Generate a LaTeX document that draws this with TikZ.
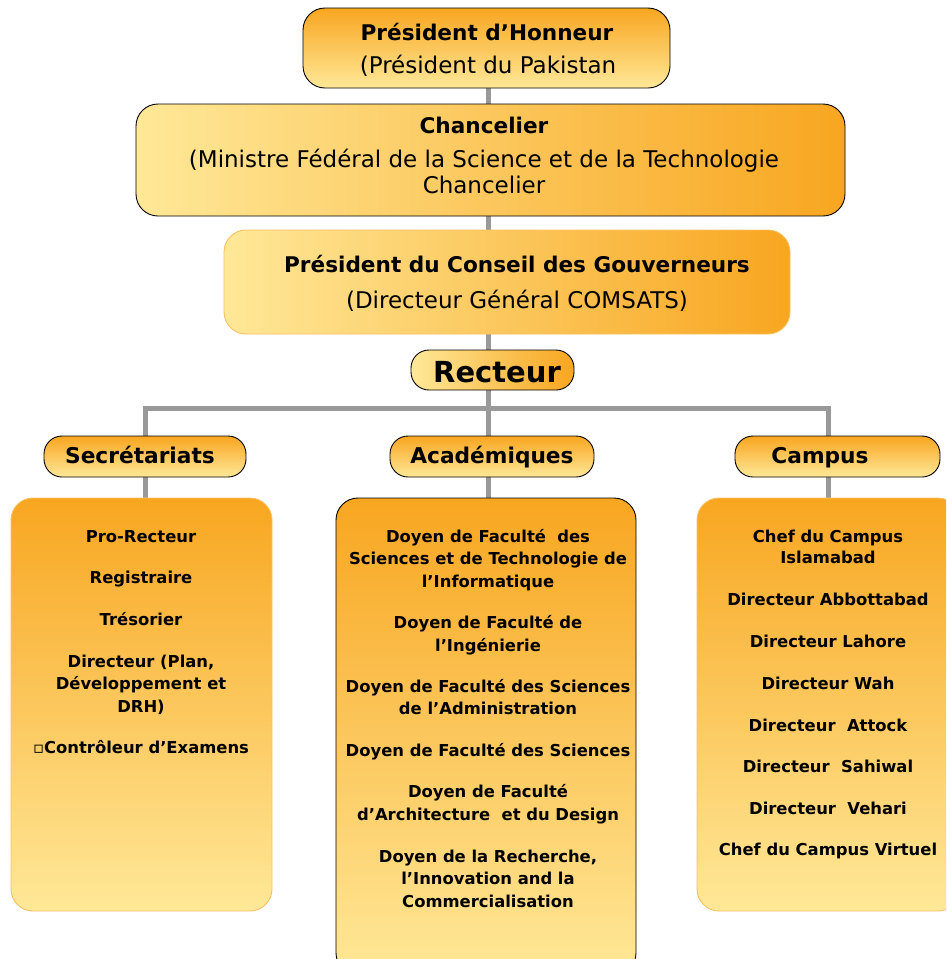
\documentclass[tikz,border=0pt]{standalone}
\usepackage{fontspec}
\setmainfont{DejaVu Sans}
\usetikzlibrary{backgrounds}
\definecolor{orD}{RGB}{248,166,32}
\definecolor{yeL}{RGB}{255,232,152}
\definecolor{conn}{RGB}{153,153,153}
\begin{document}
\begin{tikzpicture}[x=1pt,y=-1pt,
  box/.style={rounded corners=22pt, inner sep=0pt, draw=black, line width=0.9pt},
  vgrad/.style={top color=orD, bottom color=yeL},
  hgrad/.style={left color=yeL, right color=orD},
  softedge/.style={draw=orD!70},
  conline/.style={draw=conn, line width=5pt},
  tb/.style={anchor=base, inner sep=0pt, font=\fontsize{21.6}{24}\selectfont\bfseries},
  tr/.style={anchor=base, inner sep=0pt, font=\fontsize{23}{26}\selectfont},
  hd/.style={anchor=base, inner sep=0pt, font=\fontsize{21.7}{24}\selectfont\bfseries},
  item/.style={anchor=base, inner sep=0pt, font=\fontsize{16.4}{19}\selectfont\bfseries}]
\useasboundingbox (0,0) rectangle (946,959);
\clip (0,0) rectangle (946,959);

% boxes
\node[box, vgrad, minimum width=367pt, minimum height=80pt] (pres) at (486.5,48) {};
\node[box, hgrad, minimum width=709pt, minimum height=112pt] (chan) at (490.5,160) {};
\node[box, hgrad, softedge, minimum width=566pt, minimum height=104pt] (cons) at (507,282) {};
\node[box, hgrad, rounded corners=18pt, minimum width=163pt, minimum height=40pt] (rect) at (492.5,370) {};
\node[box, vgrad, rounded corners=18pt, minimum width=202pt, minimum height=41pt] (secr) at (145,456.5) {};
\node[box, vgrad, rounded corners=18pt, minimum width=204pt, minimum height=41pt] (acad) at (492,456.5) {};
\node[box, vgrad, rounded corners=18pt, minimum width=205pt, minimum height=41pt] (camp) at (837.5,456.5) {};
\node[box, vgrad, softedge, minimum width=261pt, minimum height=413pt] (lbox) at (141.5,704.5) {};
\node[box, vgrad, minimum width=300pt, minimum height=477pt] (mbox) at (486,736.5) {};
\node[box, vgrad, softedge, minimum width=263pt, minimum height=413pt] (rbox) at (828.5,704.5) {};

% connectors
\coordinate (sp) at (488,0);
\coordinate (xl) at (145,408);
\coordinate (xm) at (488,408);
\coordinate (xr) at (828,408);
\begin{pgfonlayer}{background}
\fill[white] (0,0) rectangle (946,959);
\draw[conline] (sp |- pres.south) -- (sp |- chan.north);
\draw[conline] (sp |- chan.south) -- (sp |- cons.north);
\draw[conline] (sp |- cons.south) -- (sp |- rect.north);
\draw[conline] (sp |- rect.south) -- (xm);
\draw[conline] (xl |- secr.north) -- (xl) -- (xr) -- (xr |- camp.north);
\draw[conline] (xm) -- (xm |- acad.north);
\draw[conline] (xl |- secr.south) -- (xl |- lbox.north);
\draw[conline] (xm |- acad.south) -- (xm |- mbox.north);
\draw[conline] (xr |- camp.south) -- (xr |- rbox.north);
\end{pgfonlayer}

% texts of the upper boxes
\node[tb] (p1) at (487,40) {Président d’Honneur};
\node[tr] (p2) at (488,73) {(Président du Pakistan};
\node[tb] (c1) at (484,133) {Chancelier};
\node[tr] (c2) at (484,167) {(Ministre Fédéral de la Science et de la Technologie};
\node[tr] (c3) at (484,193) {Chancelier};
\node[tb] (k1) at (517,272) {Président du Conseil des Gouverneurs};
\node[tr] (k2) at (517,308) {(Directeur Général COMSATS)};
\node[anchor=base, inner sep=0pt, font=\fontsize{29}{32}\selectfont\bfseries] (r1) at (497,382) {Recteur};
\node[hd] (h1) at (140,463) {Secrétariats};
\node[hd] (h2) at (492,463) {Académiques};
\node[hd] (h3) at (820,463) {Campus};

% items
\foreach \t/\y [count=\i] in {Pro-Recteur/542, Registraire/583, Trésorier/625,
   {Directeur (Plan,}/667, Développement et/689, DRH)/712, ▫Contrôleur d’Examens/753}
  \node[item] (s\i) at (141,\y) {\t};
\foreach \t/\y [count=\i] in {Doyen de Faculté\ \ des/542, Sciences et de Technologie de/564, l’Informatique/587,
   Doyen de Faculté de/628, l’Ingénierie/651,
   Doyen de Faculté des Sciences/692, de l’Administration/714,
   Doyen de Faculté des Sciences/756,
   Doyen de Faculté/797, d’Architecture\ \ et du Design/820,
   {Doyen de la Recherche,}/862, l’Innovation and la/884, Commercialisation/907}
  \node[item] (a\i) at (488,\y) {\t};
\foreach \t/\y [count=\i] in {Chef du Campus/542, Islamabad/563, Directeur Abbottabad/605,
   Directeur Lahore/647, Directeur Wah/689, Directeur\ \ Attock/731,
   Directeur\ \ Sahiwal/772, Directeur\ \ Vehari/814, Chef du Campus Virtuel/855}
  \node[item] (m\i) at (828,\y) {\t};
\end{tikzpicture}
\end{document}
